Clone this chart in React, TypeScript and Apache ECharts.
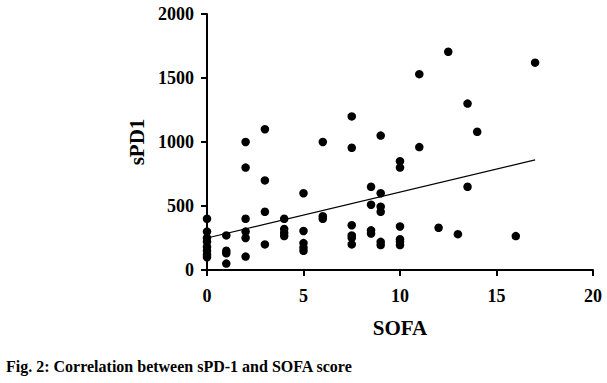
import React, { useEffect, useRef } from "react";
import * as echarts from "echarts";

const sofa: number[] = [
  0, 0, 0, 0, 0, 0, 0, 0,
  1, 1, 1, 1,
  2, 2, 2, 2, 2, 2,
  3, 3, 3, 3,
  4, 4, 4, 4,
  5, 5, 5, 5, 5,
  6, 6, 6,
  7.5, 7.5, 7.5, 7.5, 7.5, 7.5,
  8.5, 8.5, 8.5, 8.5,
  9, 9, 9, 9, 9, 9,
  10, 10, 10, 10, 10, 10,
  11, 11, 12, 12.5, 13, 13.5, 13.5, 14, 16, 17,
];
const spd1: number[] = [
  400, 300, 250, 220, 180, 150, 120, 100,
  270, 150, 130, 50,
  1000, 800, 400, 300, 250, 105,
  1100, 700, 455, 200,
  400, 320, 290, 265,
  600, 305, 210, 175, 150,
  1000, 420, 400,
  1200, 955, 350, 270, 250, 200,
  650, 510, 310, 285,
  1050, 600, 495, 455, 220, 195,
  850, 800, 340, 240, 220, 195,
  1530, 960, 330, 1705, 280, 1300, 650, 1080, 265, 1620,
];
const fitLine: [number, number][] = [
  [0, 250],
  [17, 860],
];
const yTicks = [0, 500, 1000, 1500, 2000];
const xTicks = [0, 5, 10, 15, 20];

const font = "Times New Roman, Liberation Serif, serif";

export default function App() {
  const ref = useRef<HTMLDivElement>(null);
  useEffect(() => {
    if (!ref.current) return;
    const chart = echarts.init(ref.current, null, { renderer: "svg" });
    chart.setOption({
      animation: false,
      backgroundColor: "#ffffff",
      textStyle: { fontFamily: font },
      grid: { left: 207, right: 14, top: 14, bottom: 113 },
      xAxis: {
        type: "value",
        min: xTicks[0],
        max: xTicks[xTicks.length - 1],
        interval: 5,
        name: "SOFA",
        nameLocation: "middle",
        nameGap: 47,
        nameTextStyle: { fontFamily: font, fontWeight: "bold", fontSize: 21, color: "#000" },
        axisLine: { lineStyle: { color: "#000", width: 2 } },
        axisTick: { length: 6, lineStyle: { color: "#000", width: 2 } },
        axisLabel: {
          fontFamily: font, fontWeight: "bold", fontSize: 18, color: "#000", margin: 17,
          formatter: (v: number) => String(v),
        },
        splitLine: { show: false },
      },
      yAxis: {
        type: "value",
        min: yTicks[0],
        max: yTicks[yTicks.length - 1],
        interval: 500,
        name: "sPD1",
        nameLocation: "middle",
        nameGap: 49,
        nameTextStyle: { fontFamily: font, fontWeight: "bold", fontSize: 21, color: "#000" },
        axisLine: { show: true, lineStyle: { color: "#000", width: 2 } },
        axisTick: { show: true, length: 6, lineStyle: { color: "#000", width: 2 } },
        axisLabel: {
          fontFamily: font, fontWeight: "bold", fontSize: 18, color: "#000", margin: 13,
          formatter: (v: number) => String(v),
        },
        splitLine: { show: false },
      },
      series: [
        {
          type: "scatter",
          data: sofa.map((x, i) => [x, spd1[i]]),
          symbol: "circle",
          symbolSize: 8.5,
          itemStyle: { color: "#000", opacity: 1 },
        },
        {
          type: "line",
          data: fitLine,
          symbol: "none",
          lineStyle: { color: "#000", width: 1.2 },
        },
      ],
      graphic: [
        {
          type: "text",
          left: 6,
          top: 358,
          style: {
            text: "Fig. 2: Correlation between sPD-1 and SOFA score",
            fontFamily: font,
            fontWeight: "bold",
            fontSize: 16,
            fill: "#000",
          },
        },
      ],
    });
    return () => chart.dispose();
  }, []);
  return (
    <div
      ref={ref}
      style={{ position: "fixed", left: 0, top: 0, width: 607, height: 383, background: "#fff" }}
    />
  );
}
